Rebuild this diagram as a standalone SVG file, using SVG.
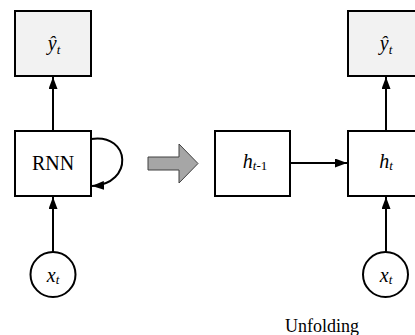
<svg xmlns="http://www.w3.org/2000/svg" width="415" height="335" viewBox="0 0 415 335">
<style>
.box{fill:#ffffff;stroke:#000;stroke-width:2}
.out{fill:#f2f2f2;stroke:#000;stroke-width:2}
.circ{fill:#ffffff;stroke:#000;stroke-width:2}
.conn{fill:none;stroke:#000;stroke-width:2}
.lbl{font-family:"Liberation Serif","Times New Roman",serif;font-size:20px;fill:#000}
.it{font-style:italic}
.sub{font-size:13px}
</style>
<defs>
<marker id="ah" viewBox="0 0 12 9" refX="12" refY="4.5" markerWidth="12" markerHeight="9" markerUnits="userSpaceOnUse" orient="auto">
<path d="M0,0 L12,4.5 L0,9 z" fill="#000"/>
</marker>
</defs>
<rect width="415" height="335" fill="#ffffff"/>
<g id="connectors">
<line class="conn" x1="53" y1="131" x2="53" y2="77" marker-end="url(#ah)"/>
<line class="conn" x1="53" y1="252" x2="53" y2="197" marker-end="url(#ah)"/>
<path class="conn" d="M91,139 C131,133 134,184 92,186" marker-end="url(#ah)"/>
<line class="conn" x1="290" y1="163" x2="347" y2="163" marker-end="url(#ah)"/>
<line class="conn" x1="386" y1="131" x2="386" y2="77" marker-end="url(#ah)"/>
<line class="conn" x1="386" y1="252" x2="386" y2="197" marker-end="url(#ah)"/>
</g>
<g id="yhat-left">
<rect class="out" x="15" y="11" width="76" height="65"/>
<text class="lbl" x="54" y="50" text-anchor="middle"><tspan class="it">ŷ</tspan><tspan class="it sub" dy="4">t</tspan></text>
</g>
<g id="rnn">
<rect class="box" x="15" y="131" width="76" height="65"/>
<text class="lbl" x="53" y="169.5" text-anchor="middle">RNN</text>
</g>
<g id="x-left">
<circle class="circ" cx="53" cy="274.5" r="22.5"/>
<text class="lbl" x="53" y="281.5" text-anchor="middle"><tspan class="it">x</tspan><tspan class="it sub" dy="2">t</tspan></text>
</g>
<g id="unfold-arrow">
<polygon points="148,157 179,157 179,144 198,163.5 179,183 179,170 148,170" fill="#a6a6a6" stroke="#404040" stroke-width="1"/>
</g>
<g id="h-prev">
<rect class="box" x="215" y="131" width="75" height="65"/>
<text class="lbl" x="255" y="168" text-anchor="middle"><tspan class="it">h</tspan><tspan class="it sub" dy="2">t</tspan><tspan class="sub">-1</tspan></text>
</g>
<g id="yhat-right">
<rect class="out" x="348" y="11" width="76" height="65"/>
<text class="lbl" x="386" y="50" text-anchor="middle"><tspan class="it">ŷ</tspan><tspan class="it sub" dy="4">t</tspan></text>
</g>
<g id="h-t">
<rect class="box" x="348" y="131" width="76" height="65"/>
<text class="lbl" x="386" y="168" text-anchor="middle"><tspan class="it">h</tspan><tspan class="it sub" dy="2">t</tspan></text>
</g>
<g id="x-right">
<circle class="circ" cx="385.5" cy="274.5" r="22.5"/>
<text class="lbl" x="386" y="281.5" text-anchor="middle"><tspan class="it">x</tspan><tspan class="it sub" dy="2">t</tspan></text>
</g>
<text class="lbl" x="322" y="332" text-anchor="middle" font-size="18" style="font-size:18px">Unfolding</text>
</svg>
